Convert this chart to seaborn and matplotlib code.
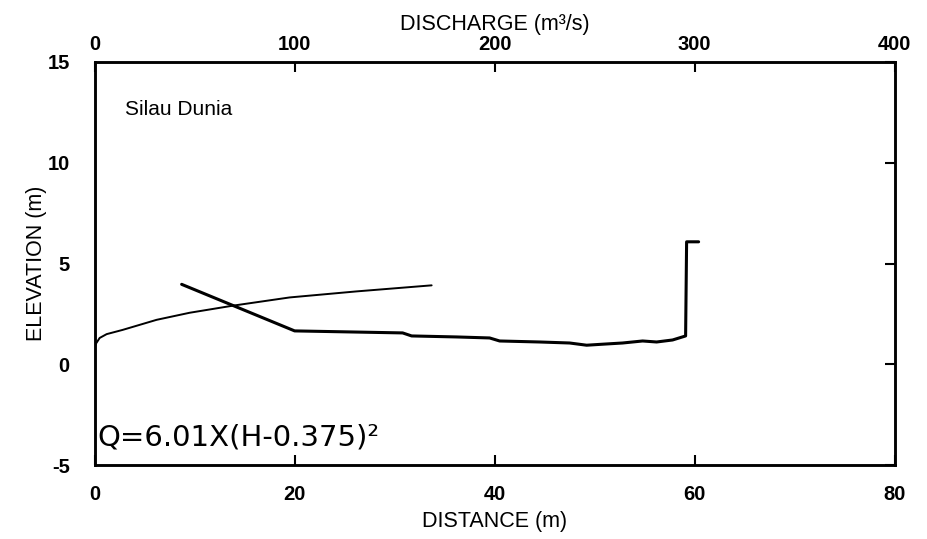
import matplotlib
matplotlib.use("Agg")
import matplotlib.pyplot as plt
import seaborn as sns
import pandas as pd

# Cross-section (distance m, elevation m)
distance = [8.7, 20.0, 30.8, 31.7, 36.2, 39.5, 40.5, 44.5, 47.5, 49.2, 50.8,
            52.8, 54.8, 56.2, 57.8, 59.1, 59.2, 60.4]
elevation = [3.97, 1.66, 1.56, 1.41, 1.36, 1.31, 1.16, 1.11, 1.06, 0.95, 1.0,
             1.06, 1.16, 1.11, 1.21, 1.41, 6.08, 6.08]

# Rating curve (discharge m3/s, stage m)
discharge = [0, 0.8, 2.5, 6, 14, 31, 47.5, 69, 97.5, 131, 168.5]
stage = [0.85, 1.05, 1.31, 1.5, 1.71, 2.21, 2.56, 2.91, 3.32, 3.62, 3.92]

x_ticks = [0, 20, 40, 60, 80]
q_ticks = [0, 100, 200, 300, 400]
y_ticks = [-5, 0, 5, 10, 15]

sns.set_theme(style="white")
plt.rcParams['font.family'] = ['Liberation Sans', 'DejaVu Sans']
plt.rcParams['axes.unicode_minus'] = False
plt.rcParams['text.color'] = 'black'
plt.rcParams['axes.labelcolor'] = 'black'

fig = plt.figure(figsize=(9.28, 5.39), dpi=100)
ax = fig.add_axes([0.102, 0.137, 0.862, 0.748])

xs = pd.DataFrame({"distance": distance, "elevation": elevation})
sns.lineplot(data=xs, x="distance", y="elevation", sort=False, ax=ax,
             color="black", linewidth=2.2)
ax.set_xlim(0, 80)
ax.set_ylim(-5, 15)
ax.set_xticks(x_ticks)
ax.set_yticks(y_ticks)
ax.set_xlabel("DISTANCE (m)", fontsize=15.5, labelpad=5, color="black")
ax.set_ylabel("ELEVATION (m)", fontsize=15.5, labelpad=0, color="black")
ax.tick_params(axis="x", direction="in", length=7, width=1.5,
               labelsize=14.5, colors="black", pad=14)
ax.tick_params(axis="y", direction="in", length=7, width=1.5,
               labelsize=14.5, right=True, colors="black", pad=18)
for lab in ax.get_xticklabels() + ax.get_yticklabels():
    lab.set_fontweight("bold")
for s in ax.spines.values():
    s.set_color("black")
    s.set_linewidth(1.8)

ax2 = ax.twiny()
rc = pd.DataFrame({"discharge": discharge, "stage": stage})
sns.lineplot(data=rc, x="discharge", y="stage", sort=False, ax=ax2,
             color="black", linewidth=1.4)
ax2.set_xlim(0, 400)
ax2.set_xticks(q_ticks)
ax2.set_xlabel("DISCHARGE (m\u00b3/s)", fontsize=15.5, labelpad=3, color="black")
ax2.tick_params(axis="x", direction="in", length=7, width=1.5,
                labelsize=14.5, colors="black", pad=6)
for lab in ax2.get_xticklabels():
    lab.set_fontweight("bold")
for s in ax2.spines.values():
    s.set_color("black")
    s.set_linewidth(1.8)
ax.set_ylim(-5, 15)

ax.text(3.0, 12.65, "Silau Dunia", fontsize=15, ha="left", va="center")
ax.text(0.3, -3.62, "Q=6.01X(H-0.375)\u00b2", fontsize=21, ha="left",
        va="center", family=["DejaVu Sans"])

fig.savefig("out.png", dpi=100)
